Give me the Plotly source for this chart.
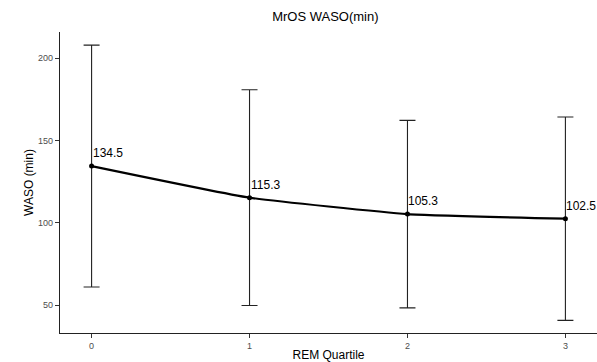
import plotly.graph_objects as go

# REM quartile summary for MrOS WASO
quartiles = [0, 1, 2, 3]
waso_mean = [134.5, 115.3, 105.3, 102.5]
waso_sd = [73.5, 65.6, 57.0, 61.8]
labels = [f"{v:.1f}" for v in waso_mean]

font = "Liberation Sans, Arial, sans-serif"

fig = go.Figure()

# error bars
fig.add_trace(go.Scatter(
    x=quartiles, y=waso_mean, mode="markers",
    marker=dict(size=1, color="rgba(0,0,0,0)"),
    error_y=dict(type="data", array=waso_sd, visible=True,
                 color="#222222", thickness=1.1, width=8),
    showlegend=False, hoverinfo="skip",
))

# mean line with points
fig.add_trace(go.Scatter(
    x=quartiles, y=waso_mean, mode="lines+markers",
    line=dict(color="black", width=2.2, shape="spline", smoothing=0.4),
    marker=dict(size=5, color="black"),
    showlegend=False,
))

# value labels, left-aligned just above each point
for q, m, lab in zip(quartiles, waso_mean, labels):
    fig.add_annotation(
        x=q, y=m, text=lab, showarrow=False,
        xanchor="left", yanchor="bottom", xshift=-1, yshift=4,
        font=dict(family=font, size=12, color="black"),
    )

fig.update_layout(
    width=597, height=362,
    margin=dict(l=60, r=0, t=32, b=29),
    paper_bgcolor="white", plot_bgcolor="white",
    font=dict(family=font),
    title=dict(text="MrOS WASO(min)", x=0.545, xanchor="center",
               y=0.955, yanchor="middle",
               font=dict(family=font, size=13, color="black")),
    xaxis=dict(
        range=[-0.2, 3.2], tickvals=quartiles, ticktext=[str(q) for q in quartiles],
        showgrid=False, zeroline=False,
        showline=True, linecolor="#222222", linewidth=1.2,
        ticks="outside", ticklen=4, tickcolor="#333333",
        tickfont=dict(family=font, size=9, color="#4d4d4d"),
        title=dict(text="REM Quartile", standoff=3,
                   font=dict(family=font, size=12, color="black")),
    ),
    yaxis=dict(
        range=[33, 216], tickvals=[50, 100, 150, 200],
        showgrid=False, zeroline=False,
        showline=True, linecolor="#222222", linewidth=1.2,
        ticks="outside", ticklen=4, tickcolor="#333333",
        tickfont=dict(family=font, size=9, color="#4d4d4d"),
        title=dict(text="WASO (min)", standoff=1,
                   font=dict(family=font, size=12, color="black")),
    ),
)

fig.write_html("out.html")
